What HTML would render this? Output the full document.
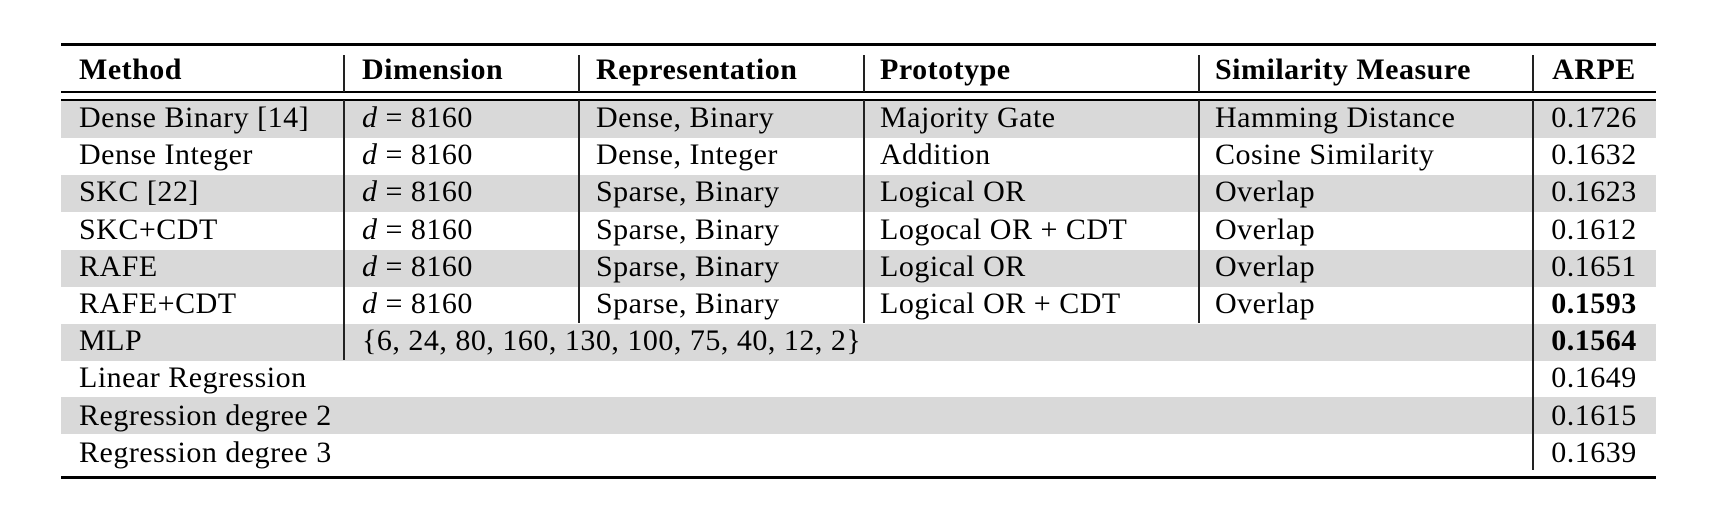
<!DOCTYPE html>
<html><head><meta charset="utf-8"><style>
body{margin:0;background:#fff;width:1711px;height:505px;position:relative;overflow:hidden;font-family:"Liberation Serif",serif;font-size:30px;color:#000;letter-spacing:0.5px}
.h{position:absolute;left:61px;width:1595px;background:#000}
.g{position:absolute;left:61px;width:1595px;height:37.2px;background:#d9d9d9}
.v{position:absolute;width:1.5px;background:#222}
.t{position:absolute;line-height:37.2px;white-space:nowrap}
.b{font-weight:bold}
.c{width:124px;text-align:center;left:1532px}
</style></head><body>
<div class="h" style="top:43px;height:2.5px"></div>
<div class="h" style="top:91px;height:1.5px"></div>
<div class="h" style="top:99px;height:1.5px"></div>
<div class="h" style="top:476px;height:2.5px"></div>
<div class="g" style="top:100.5px"></div>
<div class="g" style="top:175px"></div>
<div class="g" style="top:249.5px"></div>
<div class="g" style="top:323.5px"></div>
<div class="g" style="top:396.5px"></div>
<div class="v" style="left:343px;top:55px;height:37px"></div>
<div class="v" style="left:578px;top:55px;height:37px"></div>
<div class="v" style="left:863px;top:55px;height:37px"></div>
<div class="v" style="left:1198px;top:55px;height:37px"></div>
<div class="v" style="left:1532px;top:55px;height:37px"></div>
<div class="v" style="left:343px;top:100px;height:260px"></div>
<div class="v" style="left:578px;top:100px;height:223px"></div>
<div class="v" style="left:863px;top:100px;height:223px"></div>
<div class="v" style="left:1198px;top:100px;height:223px"></div>
<div class="v" style="left:1532px;top:100px;height:370px"></div>
<div class="t b" style="top:51px;left:79px">Method</div>
<div class="t b" style="top:51px;left:362px">Dimension</div>
<div class="t b" style="top:51px;left:596px">Representation</div>
<div class="t b" style="top:51px;left:880px">Prototype</div>
<div class="t b" style="top:51px;left:1215px">Similarity Measure</div>
<div class="t b c" style="top:51px">ARPE</div>

<div class="t" style="top:99px;left:79px">Dense Binary [14]</div>
<div class="t" style="top:99px;left:362px"><i>d</i> = 8160</div>
<div class="t" style="top:99px;left:596px">Dense, Binary</div>
<div class="t" style="top:99px;left:880px">Majority Gate</div>
<div class="t" style="top:99px;left:1215px">Hamming Distance</div>
<div class="t c" style="top:99px">0.1726</div>

<div class="t" style="top:136.2px;left:79px">Dense Integer</div>
<div class="t" style="top:136.2px;left:362px"><i>d</i> = 8160</div>
<div class="t" style="top:136.2px;left:596px">Dense, Integer</div>
<div class="t" style="top:136.2px;left:880px">Addition</div>
<div class="t" style="top:136.2px;left:1215px">Cosine Similarity</div>
<div class="t c" style="top:136.2px">0.1632</div>

<div class="t" style="top:173.4px;left:79px">SKC [22]</div>
<div class="t" style="top:173.4px;left:362px"><i>d</i> = 8160</div>
<div class="t" style="top:173.4px;left:596px">Sparse, Binary</div>
<div class="t" style="top:173.4px;left:880px">Logical OR</div>
<div class="t" style="top:173.4px;left:1215px">Overlap</div>
<div class="t c" style="top:173.4px">0.1623</div>

<div class="t" style="top:210.6px;left:79px">SKC+CDT</div>
<div class="t" style="top:210.6px;left:362px"><i>d</i> = 8160</div>
<div class="t" style="top:210.6px;left:596px">Sparse, Binary</div>
<div class="t" style="top:210.6px;left:880px">Logocal OR + CDT</div>
<div class="t" style="top:210.6px;left:1215px">Overlap</div>
<div class="t c" style="top:210.6px">0.1612</div>

<div class="t" style="top:247.8px;left:79px">RAFE</div>
<div class="t" style="top:247.8px;left:362px"><i>d</i> = 8160</div>
<div class="t" style="top:247.8px;left:596px">Sparse, Binary</div>
<div class="t" style="top:247.8px;left:880px">Logical OR</div>
<div class="t" style="top:247.8px;left:1215px">Overlap</div>
<div class="t c" style="top:247.8px">0.1651</div>

<div class="t" style="top:285px;left:79px">RAFE+CDT</div>
<div class="t" style="top:285px;left:362px"><i>d</i> = 8160</div>
<div class="t" style="top:285px;left:596px">Sparse, Binary</div>
<div class="t" style="top:285px;left:880px">Logical OR + CDT</div>
<div class="t" style="top:285px;left:1215px">Overlap</div>
<div class="t c b" style="top:285px">0.1593</div>

<div class="t" style="top:322.2px;left:79px">MLP</div>
<div class="t" style="top:322.2px;left:362px">{6, 24, 80, 160, 130, 100, 75, 40, 12, 2}</div>
<div class="t c b" style="top:322.2px">0.1564</div>

<div class="t" style="top:359.4px;left:79px">Linear Regression</div>
<div class="t c" style="top:359.4px">0.1649</div>

<div class="t" style="top:396.6px;left:79px">Regression degree 2</div>
<div class="t c" style="top:396.6px">0.1615</div>

<div class="t" style="top:433.8px;left:79px">Regression degree 3</div>
<div class="t c" style="top:433.8px">0.1639</div>
</body></html>
